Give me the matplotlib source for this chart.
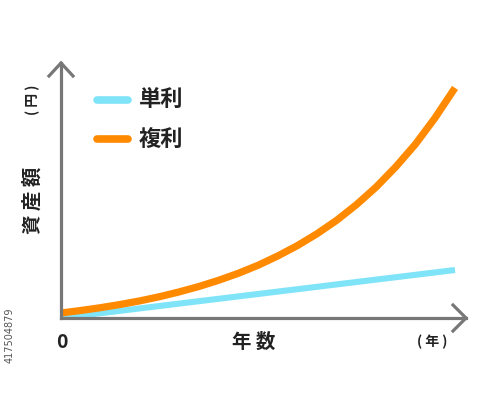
import matplotlib.pyplot as plt

plt.rcParams['font.family'] = ['Noto Sans CJK JP', 'DejaVu Sans']

# values (years vs amount, arbitrary units)
years = [0, 0.5, 1, 1.5, 2, 2.5, 3, 3.5, 4, 4.5, 5, 5.5, 6, 6.5, 7, 7.5, 8, 8.5, 9, 9.5, 10]
compound = [5, 7.5, 10.3, 13.5, 17.1, 21.3, 26.1, 31.5, 37.7, 44.7, 52.7,
            62.0, 72.4, 84.3, 97.8, 113.4, 131.0, 151.3, 174.0, 200.5, 230.1]
simple_years = [0, 10]
simple = [0, 48]

labels = ['単利', '複利']
colors = ['#80e4f8', '#ff8a00']

fig = plt.figure(figsize=(5, 3.95), dpi=100)
W, H = 500, 395
ax = fig.add_axes([61 / W, (H - 318) / H, 405 / W, 255 / H])
ax.set_xlim(0, 405 / 39.4)
ax.set_ylim(0, 255)

ax.plot(simple_years, simple, color=colors[0], lw=4.4, solid_capstyle='butt', zorder=2)
ax.plot(years, compound, color=colors[1], lw=5.2, solid_capstyle='butt',
        solid_joinstyle='round', zorder=3)

for s in ['top', 'right']:
    ax.spines[s].set_visible(False)
for s in ['left', 'bottom']:
    ax.spines[s].set_color('#777777')
    ax.spines[s].set_linewidth(2.3)
    ax.spines[s].set_zorder(4)
ax.set_xticks([])
ax.set_yticks([])

# arrow heads
gray = '#777777'
ax.plot([-12 / 405, 0, 12 / 405], [1 - 13 / 255, 1, 1 - 13 / 255], color=gray, lw=2.3,
        transform=ax.transAxes, clip_on=False, solid_joinstyle='miter')
ax.plot([1 - 13 / 405, 1, 1 - 13 / 405], [13 / 255, 0, -13 / 255], color=gray, lw=2.3,
        transform=ax.transAxes, clip_on=False, solid_joinstyle='miter')

# legend
for i, (lab, c) in enumerate(zip(labels, colors)):
    y = 1 - (100 + 39 * i) / H
    fig.add_artist(plt.Line2D([97 / W, 128 / W], [y, y], color=c, lw=5.5,
                              solid_capstyle='round', transform=fig.transFigure))
    fig.text(139 / W, y, lab, fontsize=16, fontweight='bold', va='center', ha='left',
             color='#222222')

# axis texts
fig.text(62 / W, 1 - 342 / H, '0', fontsize=14, fontweight='bold', ha='center', va='center',
         color='#222222')
fig.text(254 / W, 1 - 342 / H, '年 数', fontsize=14, fontweight='bold', ha='center', va='center',
         color='#222222')
fig.text(432 / W, 1 - 342 / H, '( 年 )', fontsize=10, fontweight='bold', ha='center', va='center',
         color='#222222')
fig.text(33 / W, 1 - 200 / H, '資 産 額', fontsize=14, fontweight='bold', ha='center', va='center',
         rotation=90, color='#222222')
fig.text(33 / W, 1 - 100 / H, '( 円 )', fontsize=10, fontweight='bold', ha='center', va='center',
         rotation=90, color='#222222')
fig.text(10 / W, 1 - 335 / H, '417504879', fontsize=7, ha='center', va='center',
         rotation=90, color='#555555', family='DejaVu Sans')

fig.savefig('out.png', dpi=100)
